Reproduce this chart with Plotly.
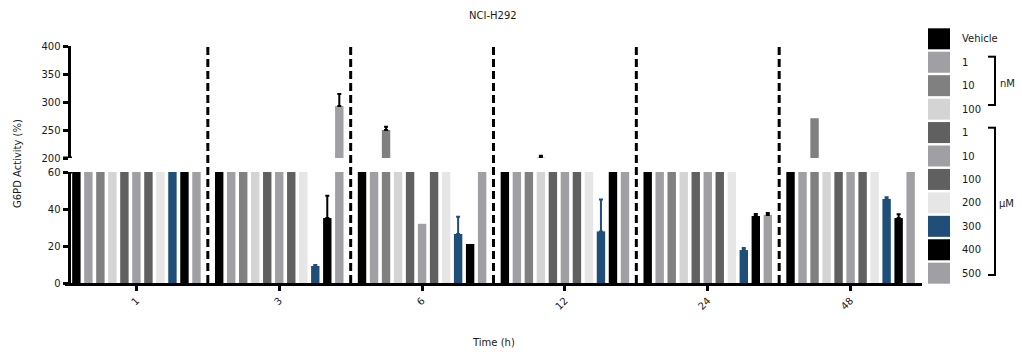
import numpy as np
import plotly.graph_objects as go

# ---------------- data ----------------
time_points = ["1", "3", "6", "12", "24", "48"]
dose_labels = ["Vehicle", "1", "10", "100", "1", "10", "100", "200", "300", "400", "500"]
dose_names = ["Vehicle", "1 nM", "10 nM", "100 nM", "1 µM", "10 µM", "100 µM",
              "200 µM", "300 µM", "400 µM", "500 µM"]

vehicle = [100, 100, 100, 100, 100, 100]
nm_1 = [100, 100, 100, 100, 100, 100]
nm_10 = [100, 100, 250, 100, 100, 271]
nm_100 = [100, 100, 100, 202, 100, 100]
um_1 = [100, 100, 100, 100, 100, 100]
um_10 = [100, 100, 32, 100, 100, 100]
um_100 = [100, 100, 100, 100, 100, 100]
um_200 = [100, 100, 100, 100, 100, 100]
um_300 = [100, 9.2, 26.5, 27.9, 17.8, 45.4]
um_400 = [100, 35.1, 21.1, 100, 36.2, 35.1]
um_500 = [100, 292.9, 100, 100, 36.8, 100]

# SD (None = no error bar drawn)
nm_10_sd = [None, None, 6, None, None, None]
nm_100_sd = [None, None, None, 2, None, None]
um_300_sd = [None, 0.5, 9.3, 17.3, 1.1, 0.9]
um_400_sd = [None, 12.1, None, None, 1.1, 2.0]
um_500_sd = [None, 21.5, None, None, 1.0, None]

series = [vehicle, nm_1, nm_10, nm_100, um_1, um_10, um_100, um_200, um_300, um_400, um_500]
errors = [None, None, nm_10_sd, nm_100_sd, None, None, None, None, um_300_sd, um_400_sd, um_500_sd]

colors = ["#000000", "#A0A0A4", "#808080", "#D4D4D4", "#606060", "#A0A0A4",
          "#606060", "#E6E6E6", "#1F4E79", "#000000", "#A0A0A4"]
err_colors = ["#000000"] * 8 + ["#1F4E79", "#000000", "#000000"]

lower_range = [0, 60]
upper_range = [200, 400]

# ---------------- layout geometry (pixels) ----------------
WIDTH, HEIGHT = 1022, 352
L, T, W, H = 65, 46, 857, 237
lower_top_px = 172
upper_bottom_px = 158


def xp(px):
    return (px - L) / W


def yp(py):
    return (T + H - py) / H


FONT = "DejaVu Sans"
TXT = "#1a1a1a"

fig = go.Figure()

for name, vals, err, col, ecol in zip(dose_names, series, errors, colors, err_colors):
    for yax in ["y", "y2"]:
        kw = {}
        if err is not None:
            up = np.array([np.nan if e is None else e for e in err], dtype=float)
            down = np.array([np.nan if e is None else 0.0 for e in err], dtype=float)
            kw["error_y"] = dict(type="data", array=up, arrayminus=down,
                                 symmetric=False, color=ecol, thickness=2, width=2)
        fig.add_trace(go.Bar(
            x=time_points, y=vals, name=name, yaxis=yax,
            marker=dict(color=col, line=dict(width=0)),
            showlegend=False, hoverinfo="skip", **kw))

axis_common = dict(showline=True, linecolor="black", linewidth=3, ticks="outside",
                   ticklen=5, tickwidth=3, tickcolor="black", showgrid=False,
                   zeroline=False, tickfont=dict(family=FONT, size=10, color=TXT))

fig.update_layout(
    width=WIDTH, height=HEIGHT,
    margin=dict(l=L, r=WIDTH - L - W, t=T, b=HEIGHT - T - H, pad=0),
    paper_bgcolor="white", plot_bgcolor="white",
    barmode="group", bargap=0.075, bargroupgap=0.3,
    xaxis=dict(domain=[0, 1], range=[-0.5, 5.5], type="category", anchor="y",
               tickangle=-45, **axis_common),
    yaxis=dict(domain=[0, yp(lower_top_px)], range=lower_range, tickvals=[0, 20, 40, 60],
               anchor="free", position=xp(68.5), **axis_common),
    yaxis2=dict(domain=[yp(upper_bottom_px), 1], range=upper_range,
                tickvals=[200, 250, 300, 350, 400],
                anchor="free", position=xp(68.5), **axis_common),
)

shapes = []
# dashed separators between time points
for b in [0.5, 1.5, 2.5, 3.5, 4.5]:
    shapes.append(dict(type="line", xref="x", yref="paper", x0=b, x1=b,
                       y0=0, y1=yp(43), line=dict(color="black", width=3, dash="8px,4px")))
# axis break caps
shapes.append(dict(type="line", xref="paper", yref="y", x0=xp(63), x1=xp(72),
                   y0=60, y1=60, line=dict(color="black", width=3)))
shapes.append(dict(type="line", xref="paper", yref="y2", x0=xp(63), x1=xp(72),
                   y0=200, y1=200, line=dict(color="black", width=3)))

annotations = []
# legend
pitch = 23.44
for i, (lab, col) in enumerate(zip(dose_labels, colors)):
    top = 28.3 + i * pitch
    shapes.append(dict(type="rect", xref="paper", yref="paper",
                       x0=xp(928), x1=xp(950), y0=yp(top + 21), y1=yp(top),
                       fillcolor=col, line=dict(width=0)))
    annotations.append(dict(xref="paper", yref="paper", x=xp(960), y=yp(top + 10.5),
                            xanchor="left", yanchor="middle", text=lab, showarrow=False,
                            font=dict(family=FONT, size=10, color=TXT)))


# unit brackets
def bracket(y_top, y_bot):
    out = []
    out.append(dict(type="line", xref="paper", yref="paper", x0=xp(995), x1=xp(995),
                    y0=yp(y_top), y1=yp(y_bot), line=dict(color="black", width=2)))
    out.append(dict(type="line", xref="paper", yref="paper", x0=xp(988), x1=xp(996),
                    y0=yp(y_top), y1=yp(y_top), line=dict(color="black", width=2)))
    out.append(dict(type="line", xref="paper", yref="paper", x0=xp(988), x1=xp(996),
                    y0=yp(y_bot), y1=yp(y_bot), line=dict(color="black", width=2)))
    return out


shapes += bracket(56.7, 105)
shapes += bracket(127.7, 275)
annotations.append(dict(xref="paper", yref="paper", x=xp(998), y=yp(83), xanchor="left",
                        yanchor="middle", text="nM", showarrow=False,
                        font=dict(family=FONT, size=10, color=TXT)))
annotations.append(dict(xref="paper", yref="paper", x=xp(997), y=yp(203), xanchor="left",
                        yanchor="middle", text="µM", showarrow=False,
                        font=dict(family=FONT, size=10, color=TXT)))

# titles
annotations.append(dict(xref="paper", yref="paper", x=xp(493), y=yp(15), xanchor="center",
                        yanchor="middle", text="NCI-H292", showarrow=False,
                        font=dict(family=FONT, size=10, color=TXT)))
annotations.append(dict(xref="paper", yref="paper", x=xp(493), y=yp(342), xanchor="center",
                        yanchor="middle", text="Time (h)", showarrow=False,
                        font=dict(family=FONT, size=10, color=TXT)))
annotations.append(dict(xref="paper", yref="paper", x=xp(17), y=yp(164), xanchor="center",
                        yanchor="middle", text="G6PD Activity (%)", textangle=-90,
                        showarrow=False, font=dict(family=FONT, size=10, color=TXT)))

fig.update_layout(shapes=shapes, annotations=annotations)

fig.write_html("out.html")
